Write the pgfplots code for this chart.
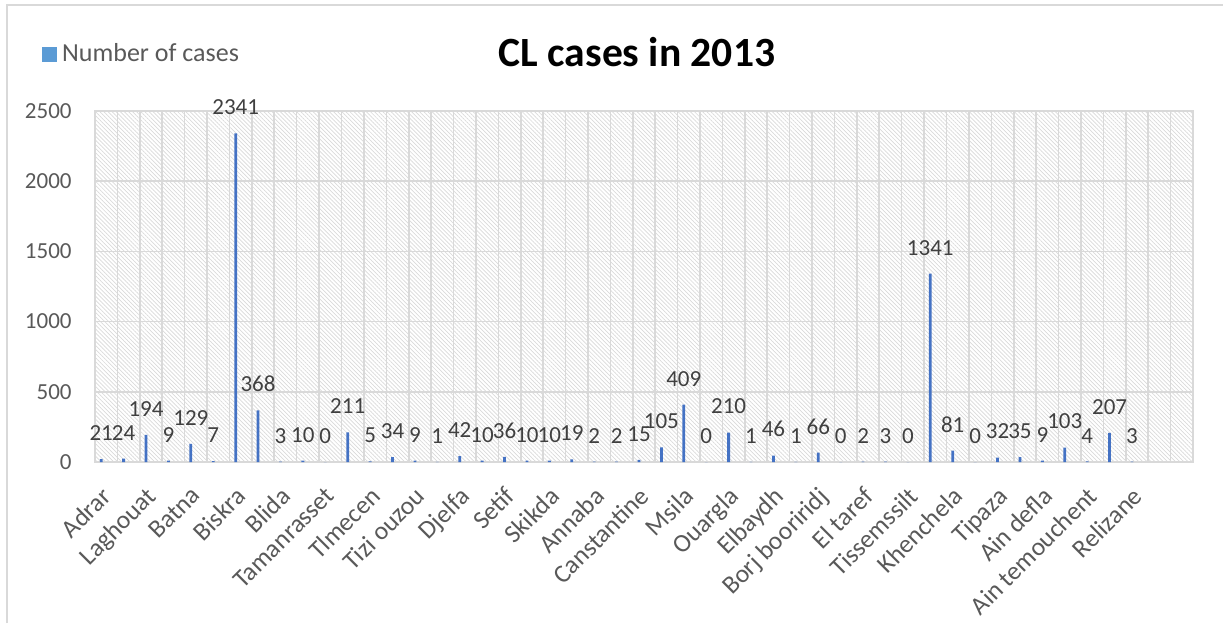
\documentclass[border=0pt]{standalone}
\usepackage{pgfplots}
\pgfplotsset{compat=1.18}
\usepackage{pgfplotstable}
\usetikzlibrary{patterns.meta}
\usepackage{fontspec}
\setmainfont{Carlito}

\definecolor{barblue}{HTML}{4472C4}
\definecolor{legblue}{HTML}{5B9BD5}
\definecolor{gridgray}{HTML}{D9D9D9}
\definecolor{ticktext}{HTML}{595959}
\definecolor{valtext}{HTML}{404040}
\definecolor{hatch}{HTML}{D9D9D9}

% CL cases per wilaya, 2013 (categories numbered in chart order)
\pgfplotstableread{
idx cases
1 21
2 24
3 194
4 9
5 129
6 7
7 2341
8 368
9 3
10 10
11 0
12 211
13 5
14 34
15 9
16 1
17 42
18 10
19 36
20 10
21 10
22 19
23 2
24 2
25 15
26 105
27 409
28 0
29 210
30 1
31 46
32 1
33 66
34 0
35 2
36 3
37 0
38 1341
39 81
40 0
41 32
42 35
43 9
44 103
45 4
46 207
47 3
}\cltable

\begin{document}
\begin{tikzpicture}
\begin{axis}[
  at={(47.5pt,80.5pt)}, anchor=south west,
  scale only axis, width=549pt, height=175.5pt,
  xmin=0.5, xmax=49.5, ymin=0, ymax=2500,
  ytick={0,500,...,2500},
  xtick={1,3,...,47},
  xticklabels={Adrar,Laghouat,Batna,Biskra,Blida,Tamanrasset,Tlmecen,Tizi ouzou,Djelfa,Setif,Skikda,Annaba,Canstantine,Msila,Ouargla,Elbaydh,Borj booriridj,El taref,Tissemssilt,Khenchela,Tipaza,Ain defla,Ain temouchent,Relizane},
  minor xtick={0.5,1.5,...,49.5},
  xminorgrids, ymajorgrids,
  major grid style={gridgray, line width=0.8pt},
  minor grid style={gridgray, line width=0.8pt},
  axis line style={gridgray, line width=0.8pt},
  major tick length=0pt, minor tick length=0pt,
  /pgf/number format/assume math mode=true,
  /pgf/number format/1000 sep={},
  yticklabel style={font=\fontsize{11.5}{14}\selectfont, text=ticktext, inner sep=0pt, xshift=-11.5pt},
  xticklabel style={xshift=-3pt, yshift=-11.5pt, font=\fontsize{12.8}{15}\selectfont, text=ticktext, rotate=45, anchor=north east, inner sep=0pt},
  axis background/.style={pattern={Lines[angle=-45,distance=1.45pt,line width=0.35pt]}, pattern color=hatch},
  every node near coord/.append style={font=\fontsize{11.5}{14}\selectfont, text=valtext, inner sep=0pt, anchor=south, xshift=-2.5pt, yshift=9pt},
  clip=false,
  legend style={at={(-0.0483,1.162)}, anchor=west, draw=none, fill=none, inner sep=0pt,
    nodes={inner sep=2.5pt},
    font=\fontsize{13}{15}\selectfont, text=ticktext, legend cell align=left},
  title={\bfseries CL cases in 2013},
  title style={at={(0.4936,1.1325)}, anchor=center, font=\fontsize{20.8}{25}\selectfont},
]
\addplot[ybar, bar width=1.4pt, bar shift=-2.5pt, fill=barblue, draw=none,
  nodes near coords, forget plot]
  table[x=idx,y=cases]{\cltable};
% square legend key for the bar series
\addlegendimage{legend image code/.code={\fill[legblue] (0pt,-3.5pt) rectangle (7pt,3.5pt);}}
\addlegendentry{Number of cases}
\end{axis}
% chart frame
\draw[gridgray, line width=1pt] (3.5pt,0pt) -- (3.5pt,309pt) -- (611.5pt,309pt);
\pgfresetboundingbox
\useasboundingbox (0,0) rectangle (611.5pt,311.5pt);
\end{tikzpicture}
\end{document}
